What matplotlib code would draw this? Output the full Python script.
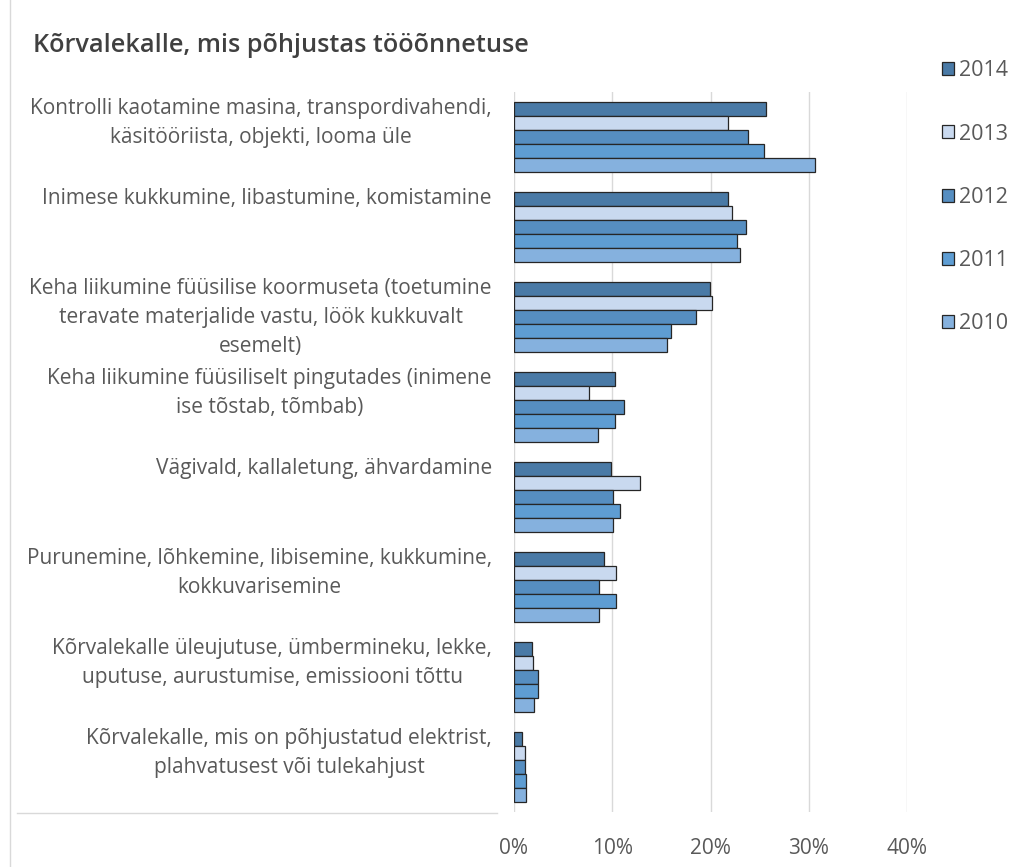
import matplotlib.pyplot as plt
from matplotlib.lines import Line2D
from matplotlib.ticker import FuncFormatter

plt.rcParams['font.family'] = ['Open Sans', 'DejaVu Sans']

categories = [
    'Kontrolli kaotamine masina, transpordivahendi,\nkäsitööriista, objekti, looma üle',
    'Inimese kukkumine, libastumine, komistamine',
    'Keha liikumine füüsilise koormuseta (toetumine\nteravate materjalide vastu, löök kukkuvalt\nesemelt)',
    'Keha liikumine füüsiliselt pingutades (inimene\nise tõstab, tõmbab)',
    'Vägivald, kallaletung, ähvardamine',
    'Purunemine, lõhkemine, libisemine, kukkumine,\nkokkuvarisemine',
    'Kõrvalekalle üleujutuse, ümbermineku, lekke,\nuputuse, aurustumise, emissiooni tõttu',
    'Kõrvalekalle, mis on põhjustatud elektrist,\nplahvatusest või tulekahjust',
]
years = ['2014', '2013', '2012', '2011', '2010']
v2014 = [25.6, 21.8, 19.9, 10.3, 9.9, 9.2, 1.8, 0.8]
v2013 = [21.8, 22.2, 20.2, 7.6, 12.8, 10.4, 1.9, 1.1]
v2012 = [23.8, 23.6, 18.5, 11.2, 10.1, 8.7, 2.4, 1.1]
v2011 = [25.4, 22.7, 16.0, 10.3, 10.8, 10.4, 2.4, 1.25]
v2010 = [30.6, 23.0, 15.6, 8.5, 10.1, 8.7, 2.0, 1.25]
series = [v2014, v2013, v2012, v2011, v2010]
colors = ['#4a7aa6', '#c9d9ef', '#568ec1', '#5e9dd3', '#85b1de']

fig = plt.figure(figsize=(10.3, 8.67), dpi=100)
W, H = 1030, 867
ax = fig.add_axes([514 / W, 1 - 812 / H, (907 - 514) / W, (812 - 92) / H])

h = 0.156
handles = []
for k, (vals, col, yr) in enumerate(zip(series, colors, years)):
    pos = [i + (k - 2) * h for i in range(len(categories))]
    b = ax.barh(pos, vals, height=h, color=col, edgecolor='#262626',
                linewidth=0.9, label=yr, zorder=3)
    handles.append(b)

ax.set_ylim(len(categories) - 0.5, -0.5)
ax.set_xlim(0, 40)
ax.set_xticks([0, 10, 20, 30, 40])
ax.xaxis.set_major_formatter(FuncFormatter(lambda v, p: f'{v:.0f}%'))
ax.tick_params(axis='x', length=0, pad=19, labelsize=15, labelcolor='#595959')
ax.set_yticks([])
ax.grid(axis='x', color='#d9d9d9', linewidth=1, zorder=0)
for s in ax.spines.values():
    s.set_visible(False)

for i, lab in enumerate(categories):
    ax.text(-0.056, i - 0.43, lab, transform=ax.get_yaxis_transform(),
            ha='right', va='top', multialignment='center', fontsize=15,
            color='#595959', linespacing=1.5)

fig.text(33 / W, 1 - 45 / H, 'Kõrvalekalle, mis põhjustas tööõnnetuse',
         fontsize=18.2, fontweight='semibold', color='#404040', va='center')

fig.add_artist(Line2D([10 / W, 10 / W], [0, 1], color='#d9d9d9', lw=1))
fig.add_artist(Line2D([17 / W, 497 / W], [1 - 813 / H, 1 - 813 / H],
                      color='#d9d9d9', lw=1))

leg = fig.legend(handles=handles, loc='upper left',
                 bbox_to_anchor=(923 / W, 1 - 41 / H), frameon=False,
                 fontsize=15.5, labelcolor='#595959', handlelength=0.55,
                 handleheight=0.55, handletextpad=0.2, labelspacing=1.96)

fig.savefig('out.png', dpi=100)
